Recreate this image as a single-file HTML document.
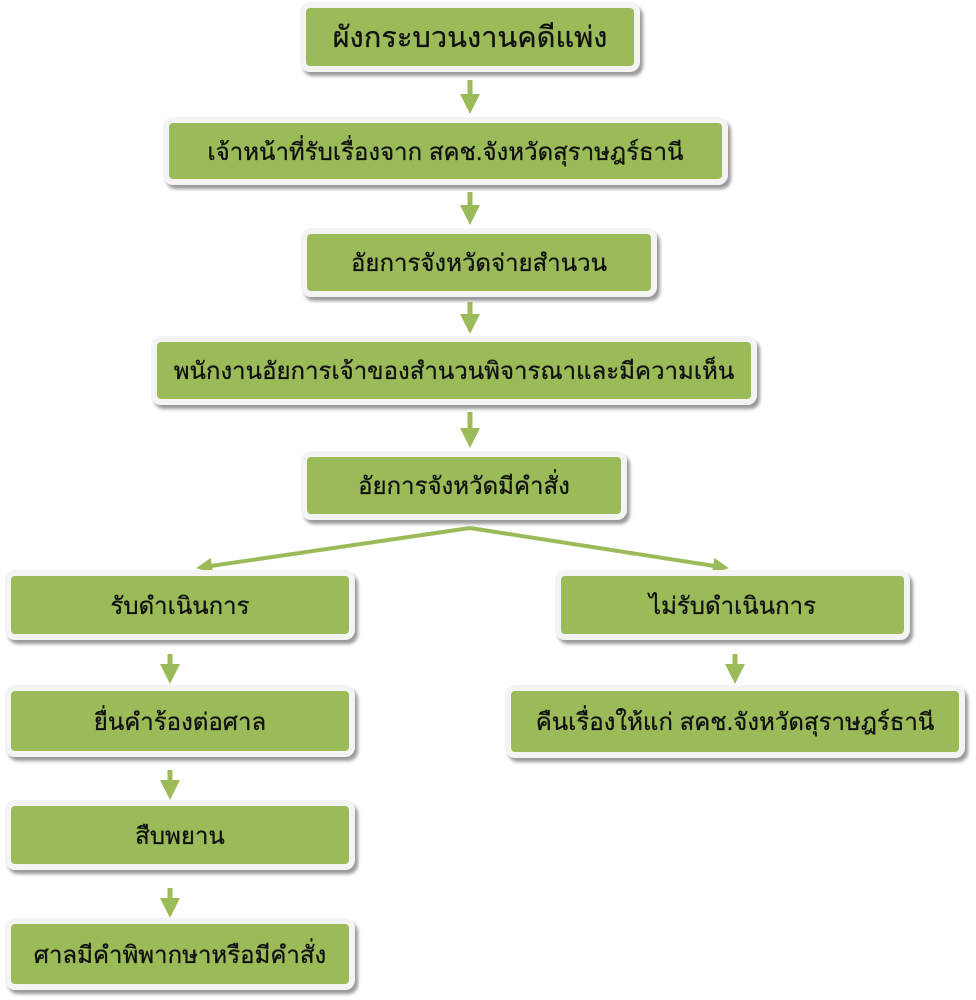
<!DOCTYPE html>
<html><head><meta charset="utf-8"><style>
body{margin:0;width:976px;height:1000px;background:#fff;position:relative;overflow:hidden;font-family:"Liberation Sans","DejaVu Sans",sans-serif;}
.b{position:absolute;box-sizing:border-box;background:#9bbb59;border:6px solid #f4f4f4;border-radius:10px;box-shadow:3px 4px 3px #9a9a9a;display:flex;align-items:center;justify-content:center;font-size:24px;color:#111;-webkit-text-stroke:0.3px #111;}
svg{position:absolute;left:0;top:0}
</style></head><body>
<svg width="976" height="1000">
<defs><marker id="a" markerWidth="4" markerHeight="4" refX="2" refY="2" orient="auto" markerUnits="strokeWidth"><path d="M0,0L4,2L0,4z" fill="#9bbb59"/></marker></defs>
<g stroke="#9bbb59" stroke-width="5" fill="none">
<line x1="470" y1="80" x2="470" y2="104" marker-end="url(#a)"/>
<line x1="470" y1="192" x2="470" y2="215" marker-end="url(#a)"/>
<line x1="470" y1="302" x2="470" y2="324" marker-end="url(#a)"/>
<line x1="470" y1="412" x2="470" y2="438" marker-end="url(#a)"/>
<line x1="470" y1="528" x2="204" y2="567" stroke-width="4" marker-end="url(#a)"/>
<line x1="470" y1="528" x2="721" y2="567" stroke-width="4" marker-end="url(#a)"/>
<line x1="170" y1="654" x2="170" y2="674" marker-end="url(#a)"/>
<line x1="170" y1="770" x2="170" y2="790" marker-end="url(#a)"/>
<line x1="170" y1="888" x2="170" y2="908" marker-end="url(#a)"/>
<line x1="735" y1="654" x2="735" y2="674" marker-end="url(#a)"/>
</g></svg>
<div class="b" style="left:300px;top:2px;width:340px;height:70px;font-size:29px">ผังกระบวนงานคดีแพ่ง</div>
<div class="b" style="left:163px;top:117px;width:565px;height:68px">เจ้าหน้าที่รับเรื่องจาก สคช.จังหวัดสุราษฎร์ธานี</div>
<div class="b" style="left:301px;top:228px;width:356px;height:69px">อัยการจังหวัดจ่ายสำนวน</div>
<div class="b" style="left:151px;top:336px;width:606px;height:69px">พนักงานอัยการเจ้าของสำนวนพิจารณาและมีความเห็น</div>
<div class="b" style="left:301px;top:451px;width:326px;height:69px">อัยการจังหวัดมีคำสั่ง</div>
<div class="b" style="left:5px;top:570px;width:350px;height:70px">รับดำเนินการ</div>
<div class="b" style="left:555px;top:570px;width:355px;height:70px">ไม่รับดำเนินการ</div>
<div class="b" style="left:5px;top:685px;width:350px;height:72px">ยื่นคำร้องต่อศาล</div>
<div class="b" style="left:505px;top:685px;width:460px;height:73px">คืนเรื่องให้แก่ สคช.จังหวัดสุราษฎร์ธานี</div>
<div class="b" style="left:5px;top:800px;width:350px;height:70px">สืบพยาน</div>
<div class="b" style="left:5px;top:918px;width:350px;height:72px">ศาลมีคำพิพากษาหรือมีคำสั่ง</div>
</body></html>
